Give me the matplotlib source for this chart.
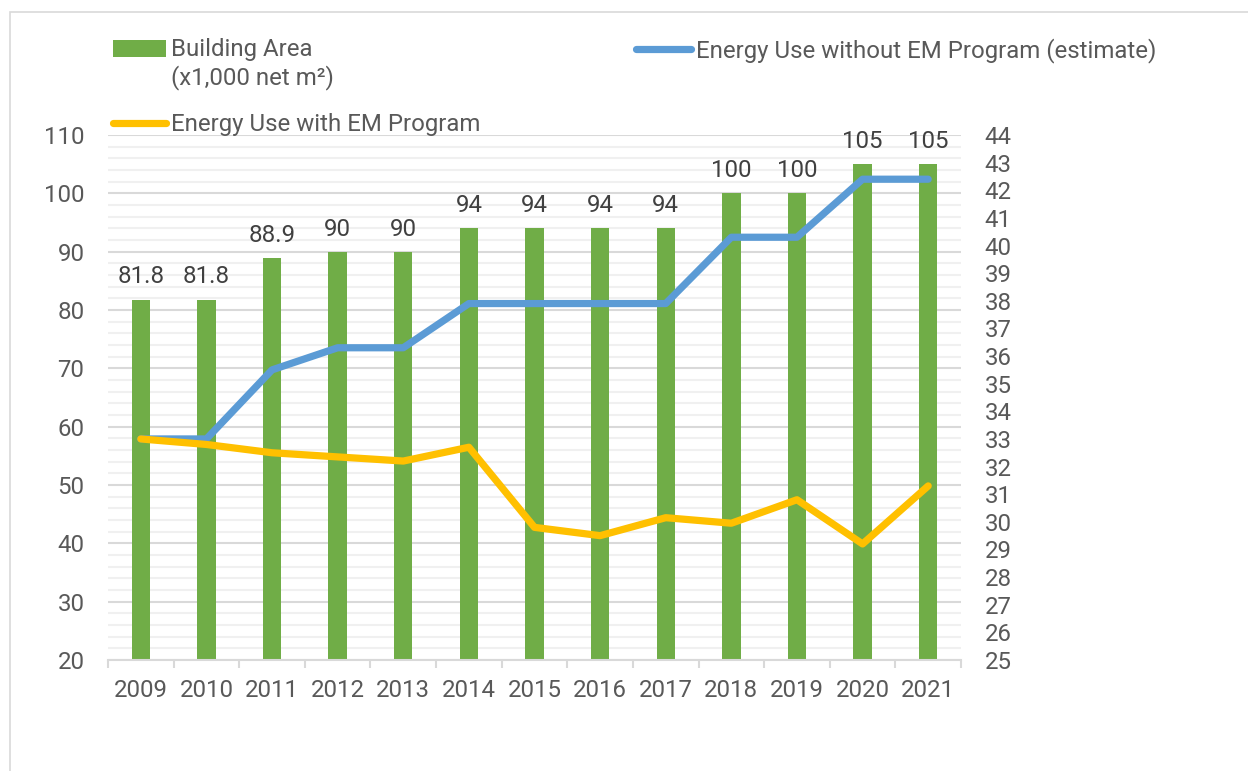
import numpy as np
import matplotlib.pyplot as plt
from matplotlib.patches import Rectangle
from matplotlib.legend_handler import HandlerPatch
from matplotlib.ticker import MultipleLocator, FixedLocator

plt.rcParams['font.family'] = ['Roboto', 'DejaVu Sans']

years = ['2009', '2010', '2011', '2012', '2013', '2014', '2015',
         '2016', '2017', '2018', '2019', '2020', '2021']
building_area = [81.8, 81.8, 88.9, 90, 90, 94, 94, 94, 94, 100, 100, 105, 105]
area_labels = ['81.8', '81.8', '88.9', '90', '90', '94', '94', '94', '94',
               '100', '100', '105', '105']
energy_without_em = [33.0, 33.0, 35.5, 36.3, 36.3, 37.9, 37.9, 37.9, 37.9,
                     40.3, 40.3, 42.4, 42.4]
energy_with_em = [33.0, 32.8, 32.5, 32.35, 32.2, 32.7, 29.8, 29.5, 30.15,
                  29.95, 30.8, 29.2, 31.3]

GREEN = '#70AD47'
BLUE = '#5B9BD5'
YELLOW = '#FFC000'
GRID = '#d9d9d9'
TXT = '#595959'
FS = 17.3

W, H = 1248, 771
fig = plt.figure(figsize=(W / 100, H / 100), dpi=100)
ax = fig.add_axes([108 / W, 111 / H, 853 / W, 525 / H])

x = np.arange(len(years))
bars = ax.bar(x, building_area, width=0.28, color=GREEN, zorder=2)
ax.bar_label(bars, labels=area_labels, padding=8, fontsize=FS, color='#404040')

ax.set_xlim(-0.5, len(years) - 0.5)
ax.set_ylim(20, 110)
ax.yaxis.set_major_locator(MultipleLocator(10))
ax.yaxis.set_minor_locator(MultipleLocator(2))
ax.grid(which='major', axis='y', color=GRID, lw=1.5)
ax.grid(which='minor', axis='y', color='#f0f0f0', lw=1.5)
ax.set_axisbelow(True)

ax.set_xticks(x)
ax.set_xticklabels(years)
ax.xaxis.set_minor_locator(FixedLocator(np.arange(-0.5, len(years), 1.0)))
ax.tick_params(axis='x', which='major', length=0, pad=14, labelsize=FS, labelcolor=TXT)
ax.tick_params(axis='x', which='minor', length=6, width=1.5, color=GRID)
ax.tick_params(axis='y', which='both', length=0, pad=17, labelsize=FS, labelcolor=TXT)
for s in ['top', 'left', 'right']:
    ax.spines[s].set_visible(False)
ax.spines['bottom'].set_color(GRID)
ax.spines['bottom'].set_linewidth(1.5)

ax2 = ax.twinx()
ax2.set_ylim(25, 44)
ax2.set_yticks(np.arange(25, 45, 1))
ax2.tick_params(axis='y', length=0, pad=17, labelsize=FS, labelcolor=TXT)
for s in ax2.spines.values():
    s.set_visible(False)

blue_line, = ax2.plot(x, energy_without_em, color=BLUE, lw=5.2,
                      solid_capstyle='round', solid_joinstyle='round')
yellow_line, = ax2.plot(x, energy_with_em, color=YELLOW, lw=5.2,
                        solid_capstyle='round', solid_joinstyle='round')


# put the bar swatch next to the first line of the two-line label
def top_swatch(legend, orig_handle, xdescent, ydescent, width, height, fontsize):
    return Rectangle((-xdescent, -ydescent + 0.68 * fontsize), width, height)


bar_handle = bars.patches[0]
leg1 = fig.legend([bar_handle, yellow_line],
                  ['Building Area\n(x1,000 net m²)', 'Energy Use with EM Program'],
                  loc='upper left', bbox_to_anchor=(113 / W, 1 - 38 / H),
                  frameon=False, fontsize=FS, handlelength=2.2, handletextpad=0.2,
                  labelspacing=0.97, borderpad=0, borderaxespad=0, labelcolor=TXT,
                  handler_map={type(bar_handle): HandlerPatch(patch_func=top_swatch)})
leg2 = fig.legend([blue_line], ['Energy Use without EM Program (estimate)'],
                  loc='upper left', bbox_to_anchor=(636 / W, 1 - 38 / H),
                  frameon=False, fontsize=FS, handlelength=2.3, handletextpad=0.2,
                  borderpad=0, borderaxespad=0, labelcolor=TXT)

fig.add_artist(Rectangle((10 / W, -0.1), 1.2, 1.1 - 12 / H, transform=fig.transFigure,
                         fill=False, edgecolor=GRID, lw=1.2))

fig.savefig('out.png', dpi=100)
